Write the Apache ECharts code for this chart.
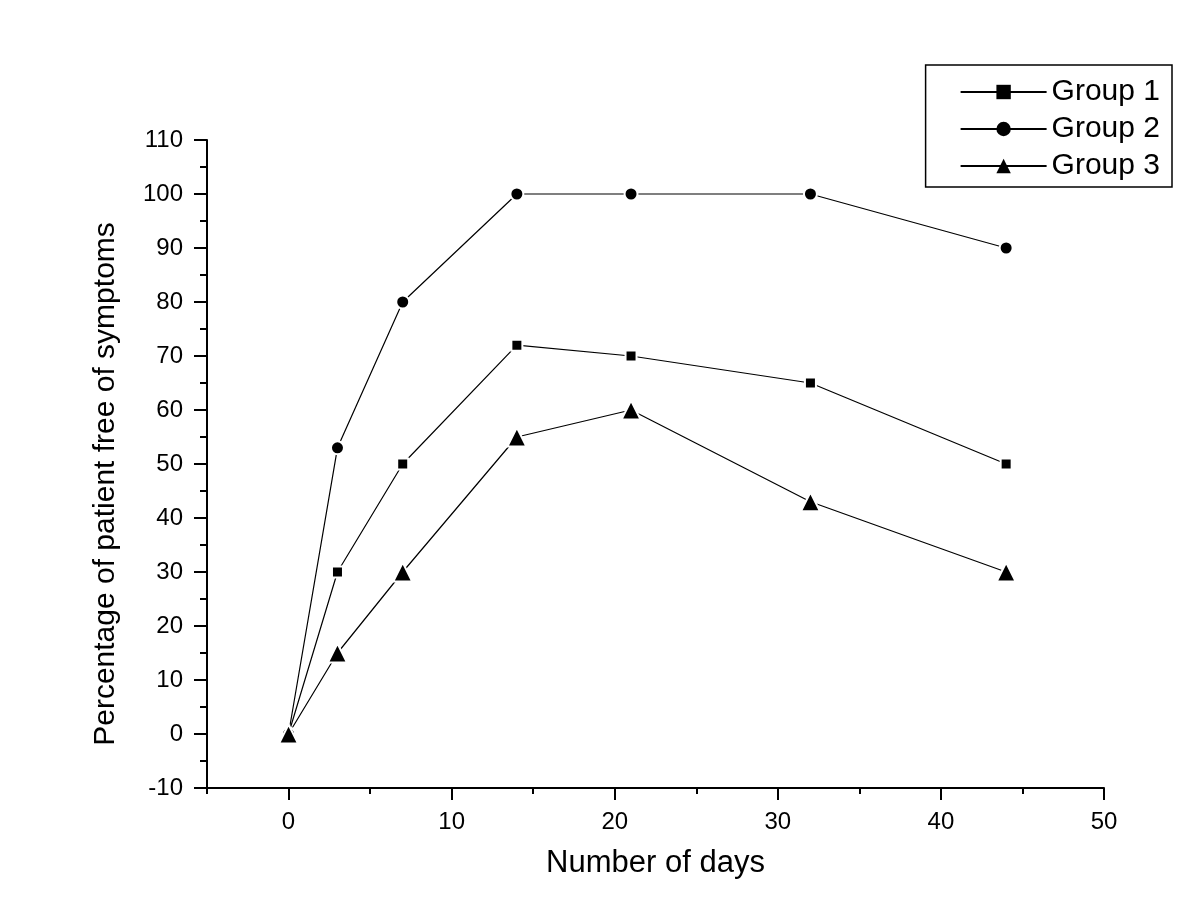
<!DOCTYPE html>
<html>
<head>
<meta charset="utf-8">
<script src="https://cdn.jsdelivr.net/npm/echarts@6/dist/echarts.min.js"></script>
<style>html,body{margin:0;padding:0;background:#fff}#c{width:1200px;height:913px}</style>
</head>
<body>
<div id="c"></div>
<script>
const days = [0, 3, 7, 14, 21, 32, 44];
const group1 = [0, 30, 50, 72, 70, 65, 50];
const group2 = [0, 53, 80, 100, 100, 100, 90];
const group3 = [0, 15, 30, 55, 60, 43, 30];
const seriesNames = ['Group 1', 'Group 2', 'Group 3'];
const xMajorTicks = [0, 10, 20, 30, 40, 50];
const xMinorTicks = [-5, 5, 15, 25, 35, 45];
const xTitle = 'Number of days';
const yTitle = 'Percentage of patient free of symptoms';

const font = 'Liberation Sans, Arial, sans-serif';
const pairs = arr => days.map((d, i) => [d, arr[i]]);
function mk(name, data, symbol, size) {
  return {
    name, type: 'line', data: pairs(data), symbol, symbolSize: size,
    xAxisIndex: 0, yAxisIndex: 0,
    lineStyle: { color: '#000', width: 1.2 },
    itemStyle: { color: '#000', borderColor: '#fff', borderWidth: 2 },
    emphasis: { disabled: true }, z: 3
  };
}
const axisLine = { onZero: false, lineStyle: { color: '#000', width: 2 } };
const chart = echarts.init(document.getElementById('c'));
chart.setOption({
  animation: false,
  backgroundColor: '#fff',
  grid: { left: 207, right: 96, top: 140, bottom: 125 },
  legend: {
    orient: 'vertical', right: 28, top: 65,
    padding: [12, 12, 6, 34],
    borderColor: '#000', borderWidth: 1.5,
    itemWidth: 86, itemHeight: 18, itemGap: 7,
    itemStyle: { borderWidth: 0 },
    textStyle: { fontFamily: font, fontSize: 30, color: '#000' },
    data: seriesNames
  },
  xAxis: [{
    type: 'value', min: -5, max: 50,
    name: xTitle, nameLocation: 'middle', nameGap: 60,
    nameTextStyle: { fontFamily: font, fontSize: 31, color: '#000' },
    axisLine,
    axisTick: { show: true, length: 12, customValues: xMajorTicks, lineStyle: { width: 2 } },
    axisLabel: { show: true, margin: 22, customValues: xMajorTicks, fontFamily: font, fontSize: 24, color: '#000' },
    splitLine: { show: false }
  }, {
    type: 'value', min: -5, max: 50, position: 'bottom',
    axisLine: { show: false, onZero: false },
    axisTick: { show: true, length: 6, customValues: xMinorTicks, lineStyle: { color: '#000', width: 2 } },
    axisLabel: { show: false },
    splitLine: { show: false }
  }],
  yAxis: {
    type: 'value', min: -10, max: 110, interval: 10,
    name: yTitle, nameLocation: 'middle', nameGap: 86,
    nameTextStyle: { fontFamily: font, fontSize: 30, color: '#000', padding: [0, 40, 0, 0] },
    axisLine,
    axisTick: { show: true, length: 13, lineStyle: { width: 2 } },
    minorTick: { show: true, splitNumber: 2, length: 7, lineStyle: { color: '#000', width: 2 } },
    axisLabel: { show: true, margin: 24, fontFamily: font, fontSize: 24, color: '#000' },
    splitLine: { show: false }
  },
  series: [
    mk(seriesNames[0], group1, 'rect', 11),
    mk(seriesNames[1], group2, 'circle', 13),
    mk(seriesNames[2], group3, 'triangle', 19)
  ]
});
</script>
</body>
</html>
